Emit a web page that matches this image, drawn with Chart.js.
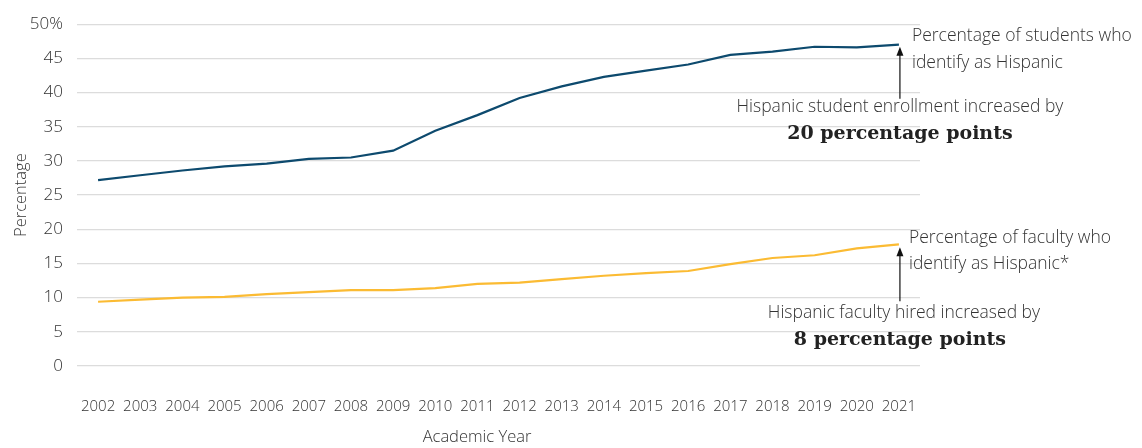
<!DOCTYPE html>
<html>
<head>
<meta charset="utf-8">
<script src="https://cdn.jsdelivr.net/npm/chart.js@4"></script>
<style>
  html, body { margin: 0; padding: 0; background: #fff; }
  #wrap { width: 1142px; height: 448px; }
</style>
</head>
<body>
<div id="wrap"><canvas id="chart" width="1142" height="448"></canvas></div>
<script>
// ============================
// data
// ============================

const years = ["2002", "2003", "2004", "2005", "2006", "2007", "2008", "2009", "2010", "2011",
  "2012", "2013", "2014", "2015", "2016", "2017", "2018", "2019", "2020", "2021"];

const studentPct = [27.2, 27.9, 28.6, 29.2, 29.6, 30.3, 30.5, 31.5, 34.4, 36.7,
  39.2, 40.9, 42.3, 43.2, 44.1, 45.5, 46.0, 46.7, 46.6, 47.0];

const facultyPct = [9.4, 9.7, 10.0, 10.1, 10.5, 10.8, 11.1, 11.1, 11.4, 12.0,
  12.2, 12.7, 13.2, 13.6, 13.9, 14.9, 15.8, 16.2, 17.2, 17.8];

const yTicks = [0, 5, 10, 15, 20, 25, 30, 35, 40, 45, 50];

const xTitle = "Academic Year";
const studentLabel = ["Percentage of students who", "identify as Hispanic"];
const studentNote = "Hispanic student enrollment increased by";
const studentBig = "20 percentage points";
const facultyLabel = ["Percentage of faculty who", "identify as Hispanic*"];
const facultyNote = "Hispanic faculty hired increased by";
const facultyBig = "8 percentage points";

const NAVY = "#0d4a6e";
const GOLD = "#fbbb33";
const TEXT = "#333333";
const SANS = "'Open Sans', 'Noto Sans', sans-serif";
const SERIF = "'DejaVu Serif', serif";

// ============================
// annotation plugin
// ============================

function arrow(ctx, x, yFrom, yTo) {
  ctx.save();
  ctx.strokeStyle = "#111";
  ctx.fillStyle = "#111";
  ctx.lineWidth = 1.2;
  ctx.beginPath();
  ctx.moveTo(x, yFrom);
  ctx.lineTo(x, yTo + 6);
  ctx.stroke();
  ctx.beginPath();
  ctx.moveTo(x, yTo);
  ctx.lineTo(x - 3.5, yTo + 9);
  ctx.lineTo(x + 3.5, yTo + 9);
  ctx.closePath();
  ctx.fill();
  ctx.restore();
}

const notesPlugin = {
  id: "notes",
  afterDatasetsDraw(chart) {
    const ctx = chart.ctx;
    const x = chart.scales.x;
    const y = chart.scales.y;
    const last = years.length - 1;
    const px = x.getPixelForValue(last) + 1;

    const ys = y.getPixelForValue(studentPct[last]);
    const yf = y.getPixelForValue(facultyPct[last]);

    arrow(ctx, px, ys + 54, ys + 2);
    arrow(ctx, px, yf + 57, yf + 3);

    ctx.save();
    ctx.fillStyle = TEXT;
    ctx.textBaseline = "middle";
    ctx.font = "300 17.5px " + SANS;
    ctx.textAlign = "left";
    ctx.fillText(studentLabel[0], px + 12, ys - 9);
    ctx.fillText(studentLabel[1], px + 12, ys + 18);
    ctx.fillText(facultyLabel[0], px + 9, yf - 6);
    ctx.fillText(facultyLabel[1], px + 9, yf + 20);

    ctx.textAlign = "center";
    ctx.fillText(studentNote, px, ys + 62);
    ctx.fillText(facultyNote, px + 4, yf + 69);

    ctx.font = "bold 19px " + SERIF;
    ctx.fillStyle = "#222";
    ctx.fillText(studentBig, px, ys + 89);
    ctx.fillText(facultyBig, px, yf + 96);

    // x axis title
    ctx.font = "300 16.5px " + SANS;
    ctx.fillStyle = TEXT;
    ctx.fillText(xTitle, 477, 437);
    ctx.restore();
  }
};

// ============================
// chart
// ============================

new Chart(document.getElementById("chart"), {
  type: "line",
  data: {
    labels: years,
    datasets: [
      {
        label: "Students",
        data: studentPct,
        borderColor: NAVY,
        borderWidth: 2.2,
        pointRadius: 0,
        tension: 0
      },
      {
        label: "Faculty",
        data: facultyPct,
        borderColor: GOLD,
        borderWidth: 2.2,
        pointRadius: 0,
        tension: 0
      }
    ]
  },
  options: {
    responsive: false,
    animation: false,
    layout: { padding: { top: 19, right: 222, left: 7, bottom: 0 } },
    plugins: {
      legend: { display: false },
      tooltip: { enabled: false }
    },
    scales: {
      x: {
        offset: true,
        grid: { display: false },
        border: { display: false },
        ticks: {
          color: TEXT,
          font: { family: SANS, size: 15, weight: "300" },
          padding: 24,
          maxRotation: 0,
          autoSkip: false
        },
        afterFit(s) { s.height = 82; }
      },
      y: {
        min: 0,
        max: 50,
        afterBuildTicks(s) { s.ticks = yTicks.map(v => ({ value: v })); },
        grid: { color: "#dcdcdc", lineWidth: 1.3, drawTicks: false },
        border: { display: false },
        ticks: {
          color: TEXT,
          font: { family: SANS, size: 17, weight: "300" },
          padding: 14,
          callback: v => v === 50 ? "50%" : v
        },
        title: {
          display: true,
          text: "Percentage",
          color: TEXT,
          font: { family: SANS, size: 16.5, weight: "300" },
          padding: { bottom: 0 }
        },
        afterFit(s) { s.width = 70; }
      }
    }
  },
  plugins: [notesPlugin]
});
</script>
</body>
</html>
